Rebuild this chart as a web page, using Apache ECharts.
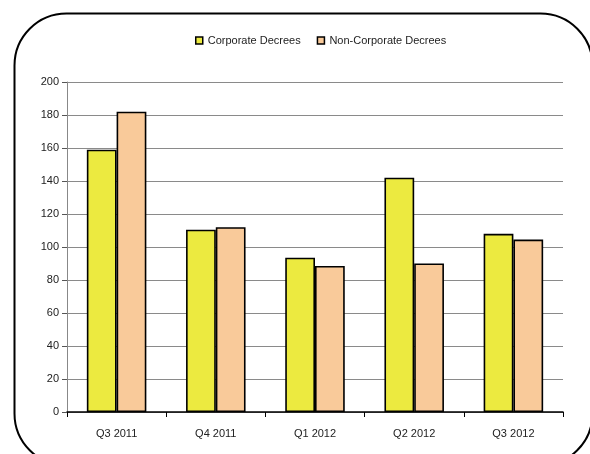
<!DOCTYPE html>
<html>
<head>
<meta charset="utf-8">
<script src="https://cdn.jsdelivr.net/npm/echarts@6/dist/echarts.min.js"></script>
<style>
html,body{margin:0;padding:0;background:#fff;}
#chart{width:590px;height:454px;}
</style>
</head>
<body>
<div id="chart"></div>
<script>
var categories = ['Q3 2011', 'Q4 2011', 'Q1 2012', 'Q2 2012', 'Q3 2012'];
var corporate = [159, 110.5, 93.5, 142, 108];
var nonCorporate = [182, 112, 88.5, 90, 104.5];
var seriesNames = ['Corporate Decrees', 'Non-Corporate Decrees'];
var yTicks = { min: 0, max: 200, interval: 20 };

var chart = echarts.init(document.getElementById('chart'), null, { renderer: 'canvas' });
var font = 'Liberation Sans, Arial, sans-serif';
chart.setOption({
  animation: false,
  backgroundColor: '#ffffff',
  graphic: [{
    type: 'rect',
    left: 12, top: 11,
    shape: { width: 578, height: 452, r: 52 },
    style: { fill: 'none', stroke: '#000', lineWidth: 2 },
    silent: true,
    z: 0
  }],
  legend: {
    top: 30,
    left: 190,
    itemWidth: 7,
    itemHeight: 7,
    itemGap: 16,
    icon: 'rect',
    textStyle: { fontFamily: font, fontSize: 11, color: '#222' },
    data: seriesNames.map(function (n) {
      return { name: n, itemStyle: { borderColor: '#000', borderWidth: 1.5 } };
    })
  },
  grid: { left: 67, right: 27, top: 82, bottom: 42, containLabel: false },
  xAxis: {
    type: 'category',
    data: categories,
    axisLine: { lineStyle: { color: '#000', width: 1.5 } },
    axisTick: { show: true, length: 5, lineStyle: { color: '#000' } },
    axisLabel: { fontFamily: font, fontSize: 11, color: '#222', margin: 16 }
  },
  yAxis: {
    type: 'value',
    min: yTicks.min,
    max: yTicks.max,
    interval: yTicks.interval,
    axisLine: { show: true, lineStyle: { color: '#888', width: 1 } },
    axisTick: { show: true, length: 5, lineStyle: { color: '#555' } },
    axisLabel: { fontFamily: font, fontSize: 11, color: '#222', margin: 8 },
    splitLine: { lineStyle: { color: '#8a8a8a', width: 1 } }
  },
  series: [{
    name: seriesNames[0],
    type: 'bar',
    data: corporate,
    barGap: '0%',
    barCategoryGap: '40%',
    itemStyle: { color: '#ECEA40', borderColor: '#000', borderWidth: 1.6 }
  }, {
    name: seriesNames[1],
    type: 'bar',
    data: nonCorporate,
    barGap: '0%',
    barCategoryGap: '40%',
    itemStyle: { color: '#F9CA9A', borderColor: '#000', borderWidth: 1.6 }
  }]
});
</script>
</body>
</html>
